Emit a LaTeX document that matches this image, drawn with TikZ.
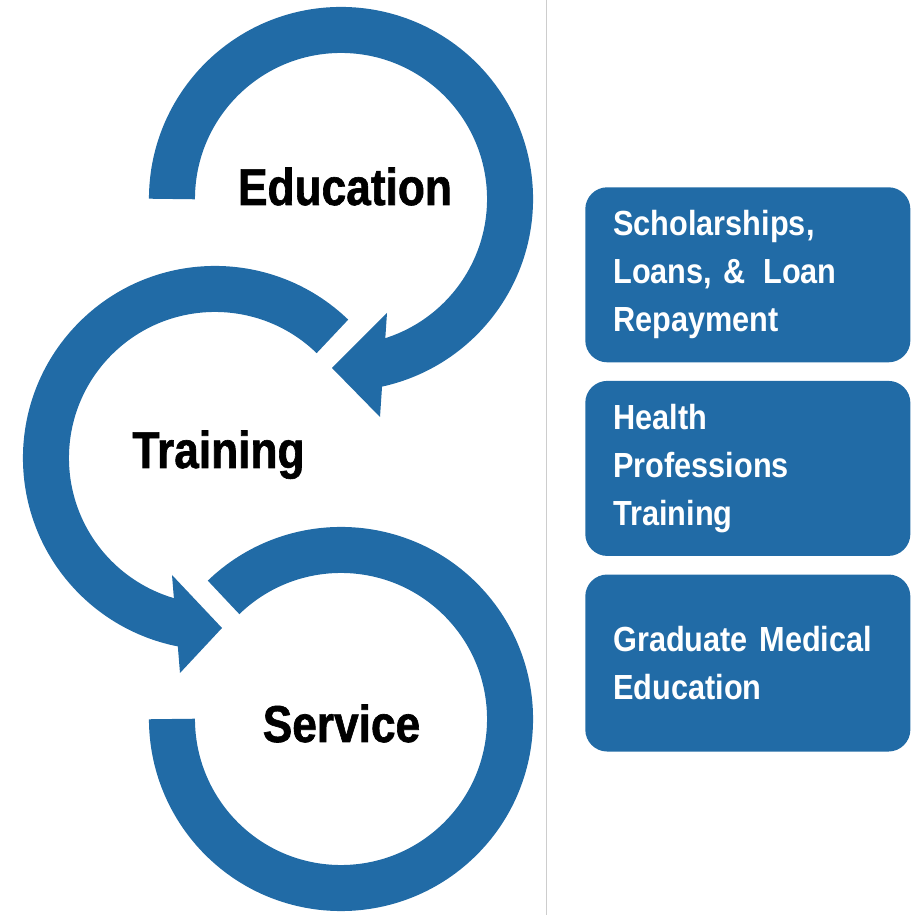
\documentclass[tikz,border=0pt]{standalone}
\usepackage{xcolor}
\usepackage{fontspec}
\usepackage{tikz}
\usetikzlibrary{positioning}

\newfontfamily\ringfont[FakeStretch=0.855, FakeBold=1.2]{Liberation Sans}
\newfontfamily\boxfont[FakeStretch=0.88, WordSpace=0.7]{Liberation Sans}
\definecolor{hrsablue}{RGB}{33,107,166}
\definecolor{divgray}{RGB}{205,205,205}

\begin{document}
\begin{tikzpicture}[x=0.025cm, y=0.025cm]
\tikzstyle{band} = [line width=1.15cm, hrsablue]
\tikzstyle{headfill} = [fill=hrsablue]
\tikzstyle{ringlabel} = [anchor=base, inner sep=0pt, text=black, font=\ringfont\bfseries\fontsize{36.8}{40}\selectfont]
\tikzstyle{program} = [rectangle, rounded corners=0.55cm, fill=hrsablue, text=white, text width=6.725cm, inner xsep=0.7cm, inner ysep=0pt, minimum height=4.375cm, align=left, font=\boxfont\bfseries\fontsize{24.8}{34.1}\selectfont]

\useasboundingbox (0,0) rectangle (910,915);

\coordinate (edu) at (341,716);
\coordinate (tra) at (215,457);
\coordinate (ser) at (341,196);
\coordinate (divtop) at (546.3,915);
\coordinate (divbot) at (546.3,0);

\draw[divgray, line width=0.04cm] (divtop) -- (divbot);

% the three rings
\draw[band] (edu) ++(180:4.225cm) arc[start angle=180, end angle=-78, radius=4.225cm];
\fill[headfill] (387,602) -- (332,547) -- (380,498) -- cycle;

\draw[band] (tra) ++(46:4.225cm) arc[start angle=46, end angle=259, radius=4.225cm];
\fill[headfill] (172,340) -- (222,287) -- (180,242) -- cycle;

\draw[band] (ser) ++(134:4.225cm) arc[start angle=134, end angle=-180, radius=4.225cm];

\node (education) [ringlabel] at (345,710) {Education};
\node (training) [ringlabel] at (218.5,447) {Training};
\node (service) [ringlabel] at (341.5,173) {Service};

% programs
\node (scholar) [program, anchor=north west] at (585,728) {Scholarships,\\Loans, \& \,Loan\\Repayment};
\node (hpt) [program, below=0.45cm of scholar] {Health\\Professions\\Training};
\node (gme) [program, below=0.45cm of hpt, minimum height=4.425cm] {Graduate Medical\\Education};

\end{tikzpicture}
\end{document}
